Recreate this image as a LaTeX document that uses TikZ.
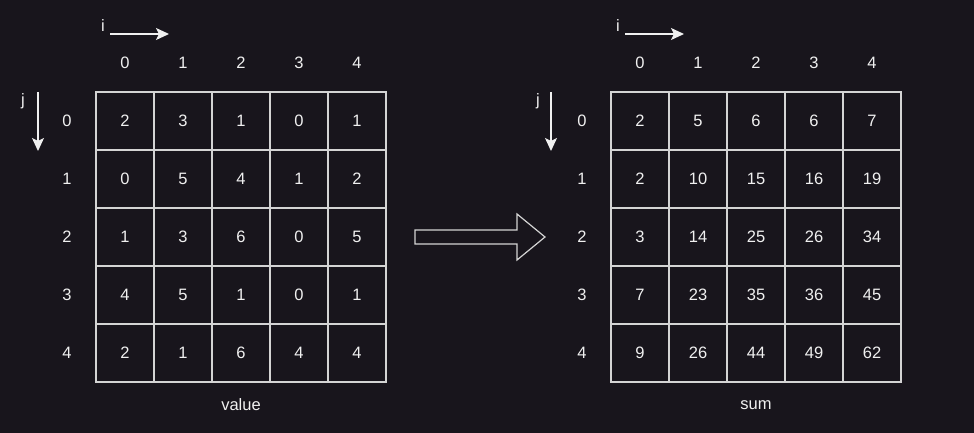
\documentclass[tikz,border=0pt]{standalone}
\usepackage{fontspec}
\setmainfont{Liberation Sans}
\usetikzlibrary{arrows.meta}
\definecolor{bg}{HTML}{18151C}
\definecolor{fg}{HTML}{F0F0F0}
\definecolor{ln}{HTML}{D4D4D4}
\begin{document}
\begin{tikzpicture}[x=1pt,y=-1pt,
  txt/.style={text=fg,font=\fontsize{16.5}{19}\selectfont,inner sep=0pt},
  cellbox/.style={draw=ln,line width=1.2pt,minimum width=58pt,minimum height=58pt,inner sep=0pt,text=fg,font=\fontsize{16.5}{19}\selectfont},
  dirarrow/.style={draw=fg,line width=1.3pt,-{Stealth[length=13pt,width=12pt,inset=3pt]}}]
\fill[bg] (0,0) rectangle (974,433);
\useasboundingbox (0,0) rectangle (974,433);
% left grid
\foreach \r/\vals in {0/{2,3,1,0,1},1/{0,5,4,1,2},2/{1,3,6,0,5},3/{4,5,1,0,1},4/{2,1,6,4,4}}{
  \foreach \v [count=\c from 0] in \vals {
    \node[cellbox] (L\r\c) at ({125+58*\c},{121+58*\r}) {\v};
  }
}
\foreach \r/\vals in {0/{2,5,6,6,7},1/{2,10,15,16,19},2/{3,14,25,26,34},3/{7,23,35,36,45},4/{9,26,44,49,62}}{
  \foreach \v [count=\c from 0] in \vals {
    \node[cellbox] (R\r\c) at ({640+58*\c},{121+58*\r}) {\v};
  }
}
\foreach \k in {0,...,4}{
  \node[txt] (lc\k) at ({125+58*\k},63) {\k};
  \node[txt] (lr\k) at (67,{121+58*\k}) {\k};
  \node[txt] (rc\k) at ({640+58*\k},63) {\k};
  \node[txt] (rr\k) at (582,{121+58*\k}) {\k};
}
% direction labels and arrows
\node[txt] (li) at (103,26) {i};
\coordinate (lia) at (110,34); \coordinate (lib) at (169,34);
\draw[dirarrow] (lia) -- (lib);
\node[txt] (lj) at (23,101) {j};
\coordinate (lja) at (38,92); \coordinate (ljb) at (38,151);
\draw[dirarrow] (lja) -- (ljb);
\node[txt] (ri) at (618,26) {i};
\coordinate (ria) at (625,34); \coordinate (rib) at (684,34);
\draw[dirarrow] (ria) -- (rib);
\node[txt] (rj) at (538,101) {j};
\coordinate (rja) at (551,92); \coordinate (rjb) at (551,151);
\draw[dirarrow] (rja) -- (rjb);
% big arrow
\draw[ln,line width=1.2pt,line join=miter] (415,230) -- (517,230) -- (517,214) -- (545,237) -- (517,260) -- (517,244) -- (415,244) -- cycle;
% captions
\node[txt] (vlab) at (241,405) {value};
\node[txt] (slab) at (756,405) {sum};
\end{tikzpicture}
\end{document}
